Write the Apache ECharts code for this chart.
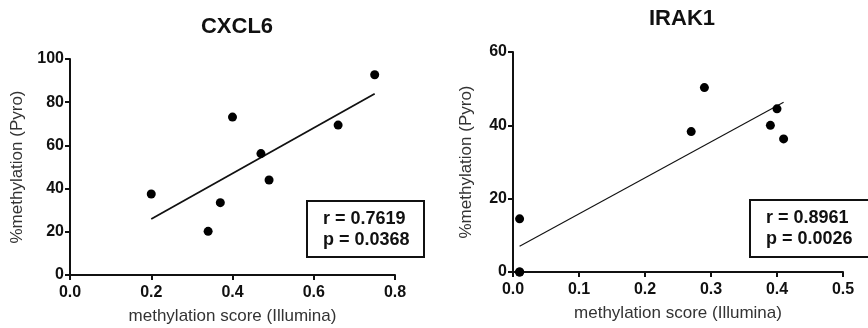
<!DOCTYPE html>
<html><head><meta charset="utf-8">
<script src="https://cdn.jsdelivr.net/npm/echarts@6/dist/echarts.min.js"></script>
<style>html,body{margin:0;padding:0;background:#fff}#c{width:868px;height:328px}</style>
</head><body><div id="c"></div>
<script>
// Data
const cxcl6X = [0.20, 0.34, 0.37, 0.40, 0.47, 0.49, 0.66, 0.75];
const cxcl6Y = [37.5, 20.2, 33.5, 73.1, 56.2, 44.0, 69.4, 92.7];
const irak1X = [0.01, 0.01, 0.01, 0.27, 0.29, 0.39, 0.40, 0.41];
const irak1Y = [0.0, 0.0, 14.5, 38.3, 50.3, 40.0, 44.5, 36.3];
const titles = ['CXCL6', 'IRAK1'];
const statsText = [['r = 0.7619', 'p = 0.0368'], ['r = 0.8961', 'p = 0.0026']];
const xName = 'methylation score (Illumina)';
const yName = '%methylation (Pyro)';

function fit(xs, ys) {
  const n = xs.length;
  const mx = xs.reduce((a, b) => a + b, 0) / n;
  const my = ys.reduce((a, b) => a + b, 0) / n;
  let sxy = 0, sxx = 0;
  for (let i = 0; i < n; i++) { sxy += (xs[i] - mx) * (ys[i] - my); sxx += (xs[i] - mx) ** 2; }
  const b = sxy / sxx, a = my - b * mx;
  const x0 = Math.min(...xs), x1 = Math.max(...xs);
  return [[x0, a + b * x0], [x1, a + b * x1]];
}
const pts = (xs, ys) => xs.map((x, i) => [x, ys[i]]);

const FONT = 'Arial, "Liberation Sans", sans-serif';
const INK = '#111';
function xAx(i, max, interval) {
  return {
    gridIndex: i, type: 'value', min: 0, max: max, interval: interval,
    name: xName, nameLocation: 'middle', nameGap: 33,
    nameTextStyle: { fontFamily: FONT, fontSize: 17, color: '#333' },
    axisLine: { lineStyle: { color: INK, width: 2 } },
    axisTick: { show: true, length: 5, lineStyle: { color: INK, width: 2 } },
    axisLabel: { fontFamily: FONT, fontSize: 16, fontWeight: 'bold', color: INK, margin: 10,
      formatter: v => v.toFixed(1) },
    splitLine: { show: false }
  };
}
function yAx(i, max, interval, gap) {
  return {
    gridIndex: i, type: 'value', min: 0, max: max, interval: interval,
    name: yName, nameLocation: 'middle', nameGap: gap, nameRotate: 90,
    nameTextStyle: { fontFamily: FONT, fontSize: 17, color: '#333' },
    axisLine: { show: true, lineStyle: { color: INK, width: 2 } },
    axisTick: { show: true, length: 5, lineStyle: { color: INK, width: 2 } },
    axisLabel: { fontFamily: FONT, fontSize: 16, fontWeight: 'bold', color: INK, margin: 6 },
    splitLine: { show: false }
  };
}
function statBox(x, y, w, h, lines) {
  return {
    type: 'group', left: x, top: y,
    children: [
      { type: 'rect', shape: { x: 0, y: 0, width: w, height: h },
        style: { fill: '#fff', stroke: INK, lineWidth: 2 } },
      { type: 'text', x: 16, y: 8,
        style: { text: lines.join('\n'), fontFamily: FONT, fontSize: 18, fontWeight: 'bold',
          fill: INK, lineHeight: 21 } }
    ]
  };
}

const chart = echarts.init(document.getElementById('c'), null, { renderer: 'canvas' });
chart.setOption({
  backgroundColor: '#fff',
  animation: false,
  title: [
    { text: titles[0], left: 232, top: 11, textAlign: 'center',
      textStyle: { fontFamily: FONT, fontSize: 22, fontWeight: 'bold', color: INK } },
    { text: titles[1], left: 677, top: 3, textAlign: 'center',
      textStyle: { fontFamily: FONT, fontSize: 22, fontWeight: 'bold', color: INK } }
  ],
  grid: [
    { left: 70, width: 325, top: 59, bottom: 53, outerBoundsMode: 'none', containLabel: false },
    { left: 513, width: 330, top: 52, bottom: 56, outerBoundsMode: 'none', containLabel: false }
  ],
  xAxis: [xAx(0, 0.8, 0.2), xAx(1, 0.5, 0.1)],
  yAxis: [yAx(0, 100, 20, 44), yAx(1, 60, 20, 38)],
  series: [
    { type: 'line', xAxisIndex: 0, yAxisIndex: 0, data: fit(cxcl6X, cxcl6Y), symbol: 'none',
      lineStyle: { color: INK, width: 1.8 }, z: 3 },
    { type: 'scatter', xAxisIndex: 0, yAxisIndex: 0, data: pts(cxcl6X, cxcl6Y), symbolSize: 9,
      itemStyle: { color: '#000', opacity: 1 }, clip: false, z: 4 },
    { type: 'line', xAxisIndex: 1, yAxisIndex: 1, data: fit(irak1X, irak1Y), symbol: 'none',
      lineStyle: { color: INK, width: 1.1 }, z: 3 },
    { type: 'scatter', xAxisIndex: 1, yAxisIndex: 1, data: pts(irak1X, irak1Y), symbolSize: 9,
      itemStyle: { color: '#000', opacity: 1 }, clip: false, z: 4 }
  ],
  graphic: [
    statBox(306, 200, 117, 56, statsText[0]),
    statBox(749, 199, 130, 57, statsText[1])
  ]
});
</script>
</body></html>
